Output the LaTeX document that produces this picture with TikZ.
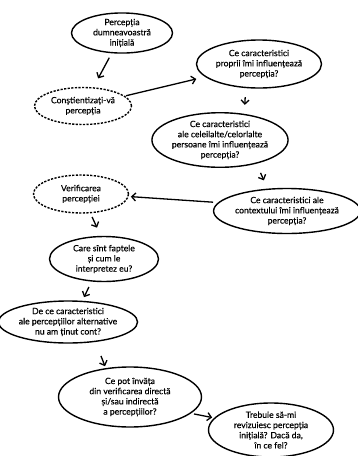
\documentclass[tikz,border=0pt]{standalone}
\usepackage{fontspec}
\setmainfont{Lato}[FakeBold=0.4]
\usepackage{tikz}
\usetikzlibrary{arrows.meta,shapes.geometric}
\tikzset{
  bubble/.style={ellipse, draw=black, line width=1.4pt, align=center, inner sep=0pt,
                 font=\fontsize{8.6}{10.2}\selectfont},
  dashbubble/.style={bubble, dash pattern=on 2.2pt off 1.4pt},
  flowarr/.style={-{Straight Barb[length=4pt,width=8pt]}, line width=1.3pt, draw=black},
}
\begin{document}
\begin{tikzpicture}[x=1pt,y=-1pt]
  \useasboundingbox (0,0) rectangle (357,456);
  % the ten questions, top to bottom
  \node[bubble, minimum width=101pt, minimum height=40pt] (init) at (122,33)
       {Percepția\\dumneavoastră\\inițială};
  \node[dashbubble, minimum width=97pt, minimum height=37pt] (aware) at (83,106)
       {Conștientizați-vă\\percepția};
  \node[bubble, minimum width=125pt, minimum height=48pt] (own) at (259,64)
       {Ce caracteristici\\proprii îmi influențează\\percepția?};
  \node[bubble, minimum width=126pt, minimum height=50pt] (other) at (220,140)
       {Ce caracteristici\\ale celeilalte/celorlalte\\persoane îmi influențează\\percepția?};
  \node[dashbubble, minimum width=95pt, minimum height=38pt] (verif) at (81,194)
       {Verificarea\\percepției};
  \node[bubble, minimum width=137pt, minimum height=45pt] (context) at (287,211)
       {Ce caracteristici ale\\contextului îmi influențează\\percepția?};
  \node[bubble, minimum width=109pt, minimum height=45pt] (facts) at (104,259)
       {Care sînt faptele\\și cum le\\interpretez eu?};
  \node[bubble, minimum width=130pt, minimum height=42pt] (altern) at (68,322)
       {De ce caracteristici\\ale percepțiilor alternative\\nu am ținut cont?};
  \node[bubble, minimum width=143pt, minimum height=60pt] (learn) at (130,397)
       {Ce pot învăța\\din verificarea directă\\și/sau indirectă\\a percepțiilor?};
  \node[bubble, minimum width=125pt, minimum height=54pt] (revise) at (271,430)
       {Trebuie să-mi\\revizuiesc percepția\\inițială? Dacă da,\\în ce fel?};
  % short arrows between them
  \draw[flowarr, shorten <=5pt, shorten >=10pt] (init.243) -- (aware.61);
  \draw[flowarr, shorten <=1pt, shorten >=9pt] (aware) -- (own);
  \draw[flowarr, shorten <=9pt, shorten >=9pt] (own.241) -- (other.47);
  \draw[flowarr, shorten <=10pt, shorten >=9pt] (other.-33) -- (context.131);
  \draw[flowarr, shorten <=5pt, shorten >=2pt] (context.173) -- (verif.-3);
  \draw[flowarr, shorten <=4pt, shorten >=9pt] (verif.-64) -- (facts.98);
  \draw[flowarr, shorten <=6pt, shorten >=4pt] (facts.-119) -- (altern.56);
  \draw[flowarr, shorten <=15pt, shorten >=2pt] (altern.-36) -- (learn.130);
  \draw[flowarr, shorten <=3pt, shorten >=2pt] (learn.-15) -- (revise.168);
\end{tikzpicture}
\end{document}
